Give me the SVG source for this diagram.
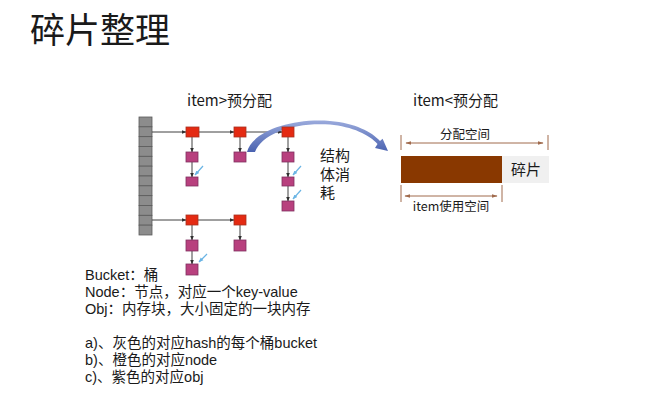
<svg xmlns="http://www.w3.org/2000/svg" width="667" height="415" viewBox="0 0 667 415">
<defs>
<style>
text{font-family:"Noto Sans CJK SC","Noto Sans",sans-serif;fill:#1a1a1a}
.lg{font-family:"Liberation Sans","Noto Sans CJK SC",sans-serif;font-size:14.5px}
.sl{font-family:"Liberation Sans","Noto Sans CJK SC",sans-serif;font-size:15px}
.bk{fill:#8c8c8c;stroke:#5a5a5a;stroke-width:0.8}
.nd{fill:#e42a12;stroke:#a83020;stroke-width:0.8}
.ob{fill:#b8407e;stroke:#803060;stroke-width:0.8}
.ln{stroke:#404040;stroke-width:1;fill:none;marker-end:url(#ah)}
.bl{stroke:#6ab4e4;stroke-width:1.2;fill:none;marker-end:url(#bh)}
.br{stroke:#a06a4c;stroke-width:1;fill:none}
.brm{stroke:#a06a4c;stroke-width:1;fill:none;marker-start:url(#dh);marker-end:url(#dh)}
.t15{font-size:15px}
.t12{font-size:12.5px}
</style>
<marker id="ah" viewBox="0 0 10 10" refX="9" refY="5" markerWidth="5" markerHeight="5" orient="auto"><path d="M0,1 L10,5 L0,9 Z" fill="#303030"/></marker>
<marker id="bh" viewBox="0 0 10 10" refX="9" refY="5" markerWidth="4" markerHeight="4" orient="auto"><path d="M0,1 L10,5 L0,9 Z" fill="#6ab4e4"/></marker>
<marker id="dh" viewBox="0 0 10 10" refX="9" refY="5" markerWidth="6" markerHeight="6" orient="auto-start-reverse"><path d="M0,2 L10,5 L0,8 Z" fill="#a06a4c"/></marker>
<linearGradient id="cg" x1="0" y1="0" x2="0" y2="1">
<stop offset="0" stop-color="#9aaadc"/>
<stop offset="1" stop-color="#4a62b0"/>
</linearGradient>
</defs>

<text x="30" y="43" style="font-size:35px">碎片整理</text>

<g id="bucket">
<rect class="bk" x="139" y="117" width="13" height="9.83"/>
<rect class="bk" x="139" y="126.83" width="13" height="9.83"/>
<rect class="bk" x="139" y="136.66" width="13" height="9.83"/>
<rect class="bk" x="139" y="146.5" width="13" height="9.83"/>
<rect class="bk" x="139" y="156.33" width="13" height="9.83"/>
<rect class="bk" x="139" y="166.16" width="13" height="9.83"/>
<rect class="bk" x="139" y="176" width="13" height="9.83"/>
<rect class="bk" x="139" y="185.83" width="13" height="9.83"/>
<rect class="bk" x="139" y="195.66" width="13" height="9.83"/>
<rect class="bk" x="139" y="205.5" width="13" height="9.83"/>
<rect class="bk" x="139" y="215.33" width="13" height="9.83"/>
<rect class="bk" x="139" y="225.16" width="13" height="9.83"/>
</g>

<g id="connectors">
<path class="ln" d="M152,132 L186,132"/>
<path class="ln" d="M199,132 L234,132"/>
<path class="ln" d="M246,132 L282,132"/>
<path class="ln" d="M192,137 L192,152"/>
<path class="ln" d="M192,162 L192,177"/>
<path class="ln" d="M240,137 L240,152"/>
<path class="ln" d="M288,137 L288,152"/>
<path class="ln" d="M288,162 L288,177"/>
<path class="ln" d="M288,186 L288,201"/>
<path class="ln" d="M152,220 L186,220"/>
<path class="ln" d="M198,220 L234,220"/>
<path class="ln" d="M192,225 L192,240"/>
<path class="ln" d="M192,251 L192,264"/>
<path class="ln" d="M240,225 L240,240"/>
<path class="bl" d="M203,166 L195,175"/>
<path class="bl" d="M301,166 L293,175"/>
<path class="bl" d="M301,190 L293,199"/>
<path class="bl" d="M207,254 L199,262"/>
<path d="M247,152 C252,132 290,118 330,121 C355,123 372,132 380,141 L382.6,138.7 L388,151 L375,147.9 L377.5,144 C370,135 352,126.5 330,124.5 C295,122 262,133 255,152 Z" fill="url(#cg)"/>
</g>

<g id="node-r1c1"><rect class="nd" x="186" y="127" width="13" height="10"/></g>
<g id="node-r1c2"><rect class="nd" x="234" y="127" width="12" height="10"/></g>
<g id="node-r1c3"><rect class="nd" x="282" y="127" width="12" height="10"/></g>
<g id="obj-r1c1a"><rect class="ob" x="186" y="152" width="12" height="10"/></g>
<g id="obj-r1c1b"><rect class="ob" x="186" y="177" width="12" height="9"/></g>
<g id="obj-r1c2a"><rect class="ob" x="234" y="152" width="12" height="10"/></g>
<g id="obj-r1c3a"><rect class="ob" x="282" y="152" width="12" height="10"/></g>
<g id="obj-r1c3b"><rect class="ob" x="282" y="177" width="12" height="9"/></g>
<g id="obj-r1c3c"><rect class="ob" x="282" y="201" width="12" height="10"/></g>
<g id="node-r2c1"><rect class="nd" x="186" y="215" width="12" height="10"/></g>
<g id="node-r2c2"><rect class="nd" x="234" y="215" width="12" height="10"/></g>
<g id="obj-r2c1a"><rect class="ob" x="186" y="240" width="12" height="11"/></g>
<g id="obj-r2c1b"><rect class="ob" x="186" y="264" width="12" height="11"/></g>
<g id="obj-r2c2a"><rect class="ob" x="234" y="240" width="12" height="11"/></g>

<text class="t15" x="187" y="106">item&gt;预分配</text>
<text class="t15" x="413" y="106">item&lt;预分配</text>

<g id="struct-label">
<text class="sl" x="320" y="161">结构</text>
<text class="sl" x="320" y="180">体消</text>
<text class="sl" x="320" y="198">耗</text>
</g>

<g id="alloc">
<path class="br" d="M401,135 L401,150 M548,135 L548,150"/>
<path class="brm" d="M406,143 L543,143"/>
<text class="t12" x="465" y="139" text-anchor="middle">分配空间</text>
<rect x="401" y="156" width="101" height="27" fill="#893800"/>
<rect x="502" y="156" width="47" height="27" fill="#f0f0f0"/>
<text class="t15" x="511" y="175">碎片</text>
<path class="br" d="M401,185 L401,202 M502,185 L502,202"/>
<path class="brm" d="M405,196 L497,196"/>
<text class="t12" x="451" y="211" text-anchor="middle">item使用空间</text>
</g>

<g id="legend">
<text class="lg" x="85" y="280">Bucket：桶</text>
<text class="lg" x="85" y="297">Node：节点，对应一个key-value</text>
<text class="lg" x="85" y="314">Obj：内存块，大小固定的一块内存</text>
<text class="lg" x="85" y="348">a)、灰色的对应hash的每个桶bucket</text>
<text class="lg" x="85" y="365">b)、橙色的对应node</text>
<text class="lg" x="85" y="382">c)、紫色的对应obj</text>
</g>
</svg>
